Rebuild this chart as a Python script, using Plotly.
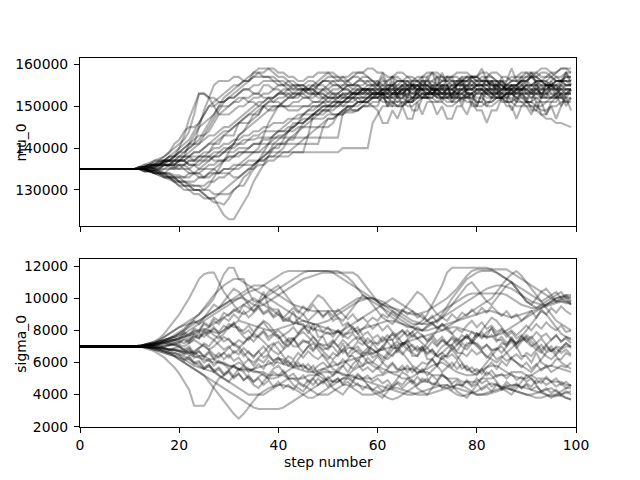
import plotly.graph_objects as go

# ---- data: MCMC walker traces (estimated) ----
STEP_LABELS = [0, 20, 40, 60, 80, 100]
MU_TICKS = [130000, 140000, 150000, 160000]
SIGMA_TICKS = [2000, 4000, 6000, 8000, 10000, 12000]
MU_UNIT = 1000      # mu_0 walker values below are in thousands
SIGMA_UNIT = 100    # sigma_0 walker values below are in hundreds

mu_w01 = [135,135,135,135,135,135,135,135,135,135, 135,135,135,135.5,135.5,136,136,137,137,138, 140,143,147,150,153,153,152,152,151,151, 152,152,153,154,154,153,153,155,155,154, 154,153,153,152,152,154,155,155,154,154, 153,153,152,152,153,153,154,154,155,155, 156,153,153,156,152,152,155,151,154,154, 157,154,154,151,155,152,152,156,153,153, 150,153,153,156,154,157,154,154,151,154, 151,151,155,152,156,153,153,150,153,154]
mu_w02 = [135,135,135,135,135,135,135,135,135,135, 135,135,135,135,134.5,134.5,135,136,136,137, 138,138,141,141,145,149,152,155,156,156, 156,157,157,156,156,158,158,157,157,156, 156,155,155,154,154,154,153,153,155,156, 157,157,156,156,155,155,155,154,154,153, 153,154,154,155,156,156,157,157,156,156, 155,155,154,154,154,155,156,156,157,157, 156,155,155,154,154,153,153,154,155,156, 157,157,156,155,155,156,157,157,158,158]
mu_w03 = [135,135,135,135,135,135,135,135,135,135, 135,135,135,134.5,134.5,134,134,133,133,132, 132,131,131,130,130,129,128,128,126,124, 123,123,125,127,129,132,134,136,138,140, 140,142,144,146,146,148,149,150,150,151, 151,152,152,153,152,152,151,151,152,153, 153,154,154,153,152,152,151,151,152,152, 153,153,154,155,155,154,153,153,152,152, 151,151,150,150,151,152,153,153,152,151, 151,150,150,149,149,150,150,151,151,152]
mu_w04 = [135,135,135,135,135,135,135,135,135,135, 135,135,135,135,135.5,135,134.5,134,133,133, 132,131,131,130,130,129,128,127,127,126.5, 128,130,131,131,133,135,137,139,141,143, 144,145,146,147,147,148,149,149,150,150, 150,151,151,150,150,149,149,150,151,152, 152,153,154,154,155,155,154,153,153,152, 152,151,151,152,153,153,154,154,155,155, 154,154,153,153,152,152,153,153,154,154, 155,155,154,153,153,152,152,153,154,154]
mu_w05 = [135,135,135,135,135,135,135,135,135,135, 135,135,135,135,135,135.5,136,136,136,135.5, 135,135,134,134,133,133,134,135,136,137, 137,138,138,139,139,139,139,139,139,139, 139,139,139,139,139,139,139,139,139,139, 139,139,139,140,140,140,140,140,140,146, 148,150,150,151,150,150,151,152,152,153, 153,153,152,152,151,151,152,152,153,153, 154,154,153,152,152,152,151,151,152,153, 153,152,152,151,151,152,152,153,153,153]
mu_w06 = [135,135,135,135,135,135,135,135,135,135, 135,135,135.5,135.5,136,136,136,137,137,136, 136,135,135,136,137,137,138,138,139,139, 140,140,141,141,142,142,142.5,142.5,142.5,142.5, 142.5,142.5,142.5,142.5,142.5,142.5,142.5,142.5,142.5,142.5, 142.5,142.5,142.5,148.5,148.5,148.5,149,150,150,151, 151,152,152,153,153,154,155,155,154,154, 153,153,154,154,155,156,156,157,157,156, 155,155,155,156,156,155,154,154,155,156, 156,157,157,156,155,155,156,156,157,157]
mu_w07 = [135,135,135,135,135,135,135,135,135,135, 135,135,135,134.5,134.5,135,135,135,136,136, 137,137,136,136,135,136,137,138,138,139, 139,139,140,140,140,141,141,141,141,141, 141,141,141,141,141,141,141,141,141,145, 147,147,148,149,150,150,151,151,152,152, 153,153,152,151,151,152,153,153,154,155, 155,154,154,153,153,152,152,153,154,154, 155,155,154,153,153,154,155,156,156,155, 154,154,153,153,152,152,153,154,155,155]
mu_w08 = [135,135,135,135,135,135,135,135,135,135, 135,135,135.5,136,136,137,137,138,139,140, 141,142,144,148,153,153,152,150,148,148, 148,149,150,150,151,152,152,153,153,154, 155,155,156,156,155,155,154,154,153,153, 152,152,153,154,155,155,156,157,157,156, 155,155,154,154,153,153,152,152,153,154, 155,156,157,157,156,156,155,155,154,154, 153,153,152,152,153,153,154,155,155,156, 156,157,157,158,158,157,156,156,157,157]
mu_w09 = [135,135,135,135,135,135,135,135,135,135, 135,135,135,135,134.5,134.5,134,134,134,133, 133,132,132,132,133,133,134,134,134,135, 135,135,135,136,136,136,137,137,138,138, 139,140,142,142,144,146,147,148,149,150, 150,151,151,152,152,153,153,154,154,153, 153,152,152,153,153,154,154,155,155,154, 154,153,153,153,154,154,155,155,156,156, 155,155,154,154,153,153,152,152,151,151, 150,150,149,148,147,147,146,146,145.5,145]
mu_w10 = [135,135,135,135,135,135,135,135,135,135, 135,135,135,135,135,135.5,135.5,136,136,136, 137,137,138,139,139,140,141,142,143,144, 144,145,146,147,148,148,149,150,151,151, 152,152,153,153,154,154,153,153,152,152, 151,151,152,153,153,154,155,155,156,156, 155,158,155,155,152,155,152,156,153,157, 154,154,157,154,157,157,154,151,154,151, 154,154,157,153,156,153,156,159,156,156, 153,153,156,152,155,155,152,155,158,155]
mu_w11 = [135,135,135,135,135,135,135,135,135,135, 135,135,135.5,135.5,136,136.5,137,137,138,138, 139,139,140,141,142,144,146,148,150,152, 153,154,155,156,157,158,159,159,159,158, 157,157,156,155,155,154,154,155,156,157, 158,158,157,157,156,155,155,154,153,153, 154,155,156,157,158,158,157,156,156,155, 155,154,154,153,153,154,155,156,156,157, 157,158,158,157,156,155,155,154,154,155, 156,157,158,159,159,158,157,156,156,155]
mu_w12 = [135,135,135,135,135,135,135,135,135,135, 135,135,135,135,134.5,134,134,133.5,133,133, 132,132,131,131,131,130,130,129,129,129, 129,130,131,133,134,136,137,138,139,141, 142,143,144,145,146,147,147,148,149,150, 150,150,151,151,152,152,153,153,153,154, 154,154,155,155,154,153,153,152,152,153, 153,154,154,155,155,155,154,154,153,153, 152,152,151,151,152,153,153,154,154,155, 155,154,154,153,153,154,154,155,155,155]
mu_w13 = [135,135,135,135,135,135,135,135,135,135, 135,135,135,135.5,136,136,136,136.5,137,137, 137,137,138,138,138,139,139,141,141,143, 143,143,146,146,146,148,148,150,150,150, 150,150,150,150,150,150,150,150,150,151, 152,152,152,153,153,153,154,154,154,154, 153,153,150,150,153,153,151,151,154,154, 152,152,155,155,152,152,156,156,153,153, 151,151,154,154,154,151,151,155,155,152, 152,149,149,152,152,155,155,152,152,154]
mu_w14 = [135,135,135,135,135,135,135,135,135,135, 135,135,135,135,135.5,136,136,137,137,138, 139,140,141,142,143,143,144,146,148,149, 150,151,152,152,151,151,150,150,149,149, 150,151,152,153,153,152,152,151,151,152, 153,154,154,155,155,154,154,153,153,152, 152,151,151,150,150,151,151,152,153,153, 152,152,151,151,150,150,151,152,152,153, 154,154,153,153,152,152,151,151,150,150, 151,151,152,152,153,153,152,152,151,151]
mu_w15 = [135,135,135,135,135,135,135,135,135,135, 135,135,135,135,135,134.5,134.5,135,135,135.5, 136,136,135,134,134,133,133,134,134,135, 135,136,136,136,137,137,137,137,138,138, 138,138,138,139,139,139,143,148,148,148, 149,149,150,150,151,151,152,152,152,153, 153,153,154,154,154,155,155,155,154,154, 153,153,152,152,152,153,153,154,154,154, 155,155,155,156,156,156,155,155,154,154, 153,153,154,154,155,155,154,154,153,153]
mu_w16 = [135,135,135,135,135,135,135,135,135,135, 135,135,135,135.5,135.5,136,136.5,137,138,139, 140,141,142,144,146,148,150,150,151,151, 152,152,153,154,154,155,155,156,156,156, 155,155,154,153,153,153,152,152,153,154, 155,156,156,157,157,158,158,158,157,156, 156,155,155,155,156,156,155,154,154,153, 153,154,155,156,157,157,158,158,158,157, 156,156,155,155,154,154,155,156,157,157, 158,158,157,156,156,157,158,159,159,159]
mu_w17 = [135,135,135,135,135,135,135,135,135,135, 135,135,135,135,135,135,134.5,134,134,133.5, 133.5,133,133,134,134,135,135,135,134,134, 134,133,133,134,135,135,136,136,137,137, 138,139,139,140,141,142,143,144,145,146, 147,147,148,149,150,150,151,151,152,152, 153,153,152,152,151,151,150,150,151,152, 152,153,153,152,152,151,151,152,152,153, 153,154,154,153,153,152,152,153,153,154, 154,153,153,152,152,152,153,153,152,152]
mu_w18 = [135,135,135,135,135,135,135,135,135,135, 135,135,135,134.5,134.5,134,133.5,133,133,132, 131,131,130,130,130,130,131,133,135,137, 139,141,143,144,146,147,148,150,151,152, 153,153,154,154,155,155,156,156,155,155, 154,153,153,152,152,153,153,154,154,155, 155,156,156,157,157,156,156,155,155,154, 154,155,155,156,156,157,157,156,156,155, 155,154,154,153,153,154,154,155,155,156, 156,155,155,154,154,155,156,156,155,155]
mu_w19 = [135,135,135,135,135,135,135,135,135,135, 135,135,135,135.5,135.5,135,135,136,136,137, 137,138,138,137,137,138,138,137,137,137, 138,138,139,139,139,139,140,143,146,148, 150,151,152,152,153,153,154,154,153,153, 152,152,151,151,152,152,153,153,154,154, 154,153,153,152,152,153,154,154,155,155, 154,154,153,153,152,152,153,153,154,154, 155,155,156,156,155,155,154,154,153,153, 153,154,154,155,155,154,154,153,153,154]
mu_w20 = [135,135,135,135,135,135,135,135,135,135, 135,135,135,135,134.5,134.5,134,134,135,135, 136,136,137,137,138,138,139,140,140,141, 141,142,142,143,143,144,144,145,145,146, 146,146,147,147,148,148,148,148,149,149, 149,148,148,148,149,149,149,150,150,150, 149,146,146,149,147,150,147,147,151,148, 151,151,148,150,147,147,150,150,148,151, 149,149,146,149,149,152,150,150,147,150, 150,148,151,148,148,150,147,150,152,149]
mu_w21 = [135,135,135,135,135,135,135,135,135,135, 135,135,135.5,136,136.5,137,137.5,138,139,141, 142,144,145,145,146,148,150,151,152,153, 154,155,155,156,156,157,157,157,157,157, 156,156,155,155,154,154,154,153,153,152, 152,153,153,154,155,155,156,156,155,155, 154,154,153,153,154,155,156,156,157,157, 158,158,157,156,156,155,155,156,157,157, 157,156,156,155,155,156,156,157,157,158, 158,157,156,156,155,155,156,156,156,156]
mu_w22 = [135,135,135,135,135,135,135,135,135,135, 135,135,135,135,135.5,135.5,136,136,135.5,135, 135,136,137,137,138,138,138,139,139,140, 140,141,141,142,142,143,143,144,144,144, 144,144,144,144,145,145,145,145,145,145, 145,146,148,148,150,150,151,151,151,152, 152,153,153,153,154,154,154,153,153,152, 152,152,153,153,154,154,155,155,155,154, 154,153,153,152,152,152,153,153,154,154, 155,155,156,156,155,155,154,154,154,154]
mu_w23 = [135,135,135,135,135,135,135,135,135,135, 135,135,135,135,135,135.5,136,136.5,137,137, 137,138,138,139,139,140,141,141,142,143, 144,145,146,147,148,149,150,151,152,152, 153,154,154,155,155,155,154,154,155,156, 156,155,155,154,154,153,153,153,154,154, 155,157,154,157,154,154,152,155,152,156, 156,158,155,158,155,152,155,157,154,157, 157,159,156,156,153,156,153,151,154,157, 155,158,155,155,153,156,153,156,158,156]
mu_w24 = [135,135,135,135,135,135,135,135,135,135, 135,135,135,135,134.5,134.5,134,133.5,133,132.5, 132,132,131.5,131,131,131,132,132,133,133, 134,135,136,137,138,139,139,140,141,142, 143,143,144,145,146,146,147,148,148,149, 149,150,150,151,151,152,152,152,153,153, 152,152,151,151,150,150,151,151,152,152, 153,153,154,154,153,153,152,152,151,151, 150,150,151,151,152,152,153,153,152,152, 151,151,150,150,151,151,152,152,153,153]
mu_w25 = [135,135,135,135,135,135,135,135,135,135, 135,135,135,135.5,135.5,136,136,136.5,137,137, 138,138,139,140,141,143,145,147,149,151, 152,153,154,155,156,157,158,158,159,159, 158,158,157,157,156,156,157,157,158,158, 158,157,157,156,156,157,158,158,159,159, 158,158,157,157,156,156,155,155,156,157, 157,158,158,157,157,156,156,155,155,156, 156,157,157,158,158,157,157,156,156,157, 157,158,158,157,157,158,158,159,159,158]
mu_w26 = [135,135,135,135,135,135,135,135,135,135, 135,135,135,135,134.5,135,135.5,136,136,136, 137,137,136,136,136,137,137,138,138,139, 140,141,143,144,145,146,147,148,149,150, 150,150,149,149,149,150,150,151,151,151, 150,150,150,151,151,152,152,151,151,150, 150,153,150,153,153,150,152,149,149,152, 152,155,152,155,155,151,153,150,153,150, 150,153,150,152,155,152,152,149,151,153, 151,154,151,151,148,151,151,153,150,152]
mu_w27 = [135,135,135,135,135,135,135,135,135,135, 135,135,135,134.5,134.5,134,134,134,133.5,133, 133,133,134,134,135,135,136,136,137,137, 138,138,139,139,140,141,141,142,142,143, 144,144,145,145,146,146,147,147,147,147, 148,148,148,149,149,150,150,151,151,152, 152,153,153,154,154,155,155,156,156,155, 155,154,154,153,153,153,154,154,155,155, 156,156,157,157,156,156,155,155,154,154, 155,155,156,156,157,157,156,156,155,155]
mu_w28 = [135,135,135,135,135,135,135,135,135,135, 135,135,135.5,135.5,136,136,137,137,138,138, 139,140,141,143,145,146,147,148,150,150, 150,151,151,152,152,153,153,152,152,151, 151,150,150,151,151,152,152,153,153,154, 154,155,155,154,154,153,153,152,152,153, 153,154,154,155,155,156,156,155,155,154, 154,153,153,152,152,153,153,154,154,155, 155,156,156,155,155,154,154,153,153,154, 154,155,155,156,156,155,155,154,154,154]
mu_w29 = [135,135,135,135,135,135,135,135,135,135, 135,135,135,135,134.5,134,133.5,133,132.5,132, 131,130,130,129,129,128,128,128,129,130, 131,132,133,134,135,136,137,138,139,140, 141,141,142,143,144,145,146,147,148,149, 150,150,151,151,152,153,153,154,154,154, 153,153,152,152,153,153,154,154,155,155, 156,156,155,155,154,154,153,153,152,152, 153,153,154,154,155,155,154,154,153,153, 152,152,153,153,154,154,155,155,154,154]
mu_w30 = [135,135,135,135,135,135,135,135,135,135, 135,135,135,135.5,136,136,136.5,137,137,138, 138,139,140,141,141,142,143,143,144,145, 145,146,147,148,149,150,151,151,152,152, 153,153,152,152,153,154,154,155,155,156, 156,156,155,155,156,157,157,156,156,155, 155,154,154,153,153,154,154,155,155,156, 156,155,155,154,154,155,155,156,156,157, 157,156,156,155,155,154,154,155,155,154, 154,153,153,154,154,155,155,156,156,156]

sigma_w01 = [70,70,70,70,70,70,70,70,70,70, 70,70,70,69,68,67,65,63,60,57, 53,48,43,33,33,33,38,45,50,52, 55,58,60,58,56,55,54,52,50,50, 51,53,55,57,58,58,56,54,52,50, 49,48,48,50,52,55,57,58,60,60, 58,56,55,53,52,50,50,51,53,55, 56,58,59,60,58,56,54,53,52,52, 53,55,57,58,58,56,54,52,51,50, 50,52,54,56,57,58,57,56,55,54]
sigma_w02 = [70,70,70,70,70,70,70,70,70,70, 70,70,70,71,72,73,74,76,78,80, 82,84,86,88,90,93,96,100,108,115, 119,119,112,112,104,98,98,104,95,93, 93,86,86,92,84,84,78,84,76,76, 70,70,66,72,64,64,60,66,66,72, 68,68,74,74,66,72,72,64,64,70, 62,62,58,64,64,70,66,66,72,72, 78,76,76,82,74,74,70,76,70,64, 64,60,66,60,58,58,62,62,66,64]
sigma_w03 = [70,70,70,70,70,70,70,70,70,70, 70,70,70.5,71,72,73,75,78,82,86, 90,95,100,106,112,115,116,116,110,104, 100,96,92,90,92,95,98,100,102,104, 106,108,110,112,114,116,117,117,117,117, 117,117,117,115,113,110,106,102,100,98, 96,94,92,90,88,86,84,82,80,80, 82,84,86,90,95,100,104,108,112,114, 116,117,117,117,116,114,112,110,108,106, 104,102,100,98,100,102,104,100,98,96]
sigma_w04 = [70,70,70,70,70,70,70,70,70,70, 70,70,70,69.5,69,68,67,66,65,64, 62,60,58,56,54,52,48,44,40,36, 32,28,25,28,32,36,40,42,44,45, 46,46,45,44,42,40,38,38,40,42, 44,46,48,50,50,48,46,45,44,43, 42,40,38,37,38,40,42,44,46,48, 48,47,46,45,44,42,40,39,40,41, 42,44,46,47,46,45,44,43,42,41, 40,40,41,42,43,44,42,40,38,37]
sigma_w05 = [70,70,70,70,70,70,70,70,70,70, 70,70,70,70,70.5,71,71.5,72,72.5,73, 73,74,72,75,78,76,79,82,78,80, 84,82,82,78,80,76,76,79,74,77, 77,72,75,75,70,73,73,68,72,71, 71,74,70,66,69,69,73,71,75,72, 72,76,73,69,69,72,71,67,70,67, 69,73,70,74,71,71,75,73,77,72, 72,69,71,68,68,72,71,75,72,76, 73,70,72,68,71,67,70,69,72,70]
sigma_w06 = [70,70,70,70,70,70,70,70,70,70, 70,70,70,70,69.5,69,68.5,68,67,66, 65,62,64,60,61,57,59,55,57,53, 55,51,53,49,52,48,50,46,49,45, 48,44,46,43,47,45,49,46,50,47, 51,48,50,46,48,45,47,43,46,43, 45,42,46,44,48,46,50,47,51,48, 50,46,48,44,46,43,47,45,49,46, 50,47,49,45,47,43,46,43,46,44, 47,45,49,47,51,48,50,46,48,45]
sigma_w07 = [70,70,70,70,70,70,70,70,70,70, 70,70,70.5,71,71.5,72,73,74,75,76, 78,80,82,84,86,88,90,92,94,96, 98,100,102,104,106,108,108,108,106,104, 102,100,98,96,95,94,93,92,92,92, 92,92,92,94,96,98,100,100,100,100, 98,96,94,92,90,88,86,84,84,84, 86,88,90,92,94,96,98,100,102,103, 103,103,103,103,103,103,102,100,98,96, 95,94,94,95,96,98,100,101,101,101]
sigma_w08 = [70,70,70,70,70,70,70,70,70,70, 70,70,70,71,72,72,73,74,75,76, 77,78,80,82,84,86,88,90,92,94, 96,98,100,102,104,105,106,108,110,112, 114,116,117,117,117,117,117,117,117,117, 117,116,114,112,110,108,106,104,102,100, 98,96,95,94,93,92,91,90,90,91, 92,94,96,98,100,103,106,110,114,117, 118,118,118,118,118,118,118,116,114,112, 110,108,106,104,102,100,98,98,97,97]
sigma_w09 = [70,70,70,70,70,70,70,70,70,70, 70,70,69.5,70,71,72,74,76,78,80, 82,83,84,85,86,88,90,92,94,96, 98,99,100,100,98,96,95,96,98,100, 102,104,106,108,110,112,113,114,115,116, 116,116,116,116,116,116,114,110,106,102, 98,94,90,88,86,84,82,82,84,86, 90,96,102,108,116,119,119,119,119,119, 119,119,119,118,116,114,112,110,106,102, 98,96,94,96,98,100,102,104,100,96]
sigma_w10 = [70,70,70,70,70,70,70,70,70,70, 70,70,70,70,70,69.5,69,68.5,68,67.5, 67,65,67,63,64,60,62,58,61,59, 56,58,55,58,54,56,59,56,61,58, 62,62,58,61,57,59,55,58,53,56, 55,52,56,58,54,59,62,58,63,60, 64,60,57,60,56,55,58,54,57,60, 59,62,58,63,60,57,61,56,58,54, 56,53,57,60,56,61,58,63,60,57, 60,56,59,55,58,54,56,58,57,60]
sigma_w11 = [70,70,70,70,70,70,70,70,70,70, 70,70,70,70.5,71,70.5,71,72,71,72, 73,72,74,76,75,78,80,77,75,78, 82,85,80,76,74,78,82,86,84,80, 76,72,70,74,78,82,80,76,72,70, 68,72,76,80,84,82,78,74,70,68, 66,70,74,78,76,72,68,66,64,68, 72,76,80,84,82,78,74,70,68,72, 76,80,84,88,86,82,78,74,72,76, 80,84,88,92,90,86,82,78,76,74]
sigma_w12 = [70,70,70,70,70,70,70,70,70,70, 70,70,70,69.5,69,68,68,67,66,66, 65,64,62,60,58,56,58,55,52,50, 48,52,56,54,50,46,44,48,52,56, 58,54,50,46,44,42,46,50,54,52, 48,44,42,40,44,48,52,50,46,42, 40,38,42,46,50,54,52,48,44,42, 40,44,48,52,50,46,42,40,38,42, 46,50,54,52,48,44,42,40,44,48, 52,50,46,42,40,38,40,42,44,46]
sigma_w13 = [70,70,70,70,70,70,70,70,70,70, 70,70,70,71,71,72,73,74,75,76, 78,80,83,86,84,88,92,96,94,98, 102,106,104,100,96,92,96,100,104,106, 108,104,100,96,92,90,94,98,102,100, 96,92,88,86,90,94,98,102,100,96, 92,88,86,84,88,92,96,100,104,102, 98,94,90,88,92,96,100,104,108,110, 106,102,98,96,100,104,108,110,106,102, 98,96,100,104,106,102,98,100,102,98]
sigma_w14 = [70,70,70,70,70,70,70,70,70,70, 70,70,70,70,69.5,69.5,70,70.5,71,71, 70,68,70,66,69,72,70,74,71,68, 70,66,68,64,67,63,67,70,66,71, 73,69,74,70,70,66,70,67,71,68, 69,73,70,74,71,68,70,66,69,65, 67,70,66,71,73,70,74,70,67,69, 65,68,64,66,69,71,67,72,70,74, 71,68,71,67,69,66,70,73,69,73, 75,71,68,71,67,70,66,69,72,69]
sigma_w15 = [70,70,70,70,70,70,70,70,70,70, 70,70,70,70.5,71,72,72,73,73,74, 74,77,74,78,76,80,78,81,79,83, 81,84,80,80,83,79,83,85,81,78, 80,77,79,82,78,81,84,80,83,79, 82,78,80,76,79,82,78,81,84,81, 84,80,83,79,77,80,76,79,82,80, 83,85,81,84,80,78,81,79,83,86, 82,85,81,83,79,81,78,80,77,80, 83,80,84,81,85,82,80,83,79,80]
sigma_w16 = [70,70,70,70,70,70,70,70,70,70, 70,70,70,70,69,68,67,66,65,64, 63,62,60,58,57,56,55,54,52,50, 48,46,44,42,40,40,40,40,42,44, 46,48,50,50,48,46,44,42,40,40, 40,42,44,46,46,44,42,40,40,40, 41,42,43,44,44,43,42,41,40,40, 40,41,42,43,44,45,46,46,44,42, 40,40,40,41,42,43,44,43,42,41, 40,39,38,38,39,40,40,39,38,37]
sigma_w17 = [70,70,70,70,70,70,70,70,70,70, 70,70,70,70.5,71,71.5,72,73,74,74, 75,78,76,80,79,84,82,86,84,88, 86,90,87,92,88,91,94,90,92,88, 90,86,88,84,87,90,86,89,92,88, 92,89,93,90,87,90,86,88,85,88, 86,90,88,92,89,93,90,92,88,90, 86,89,85,88,86,90,87,91,89,93, 90,94,91,95,92,89,92,88,90,86, 89,92,88,93,90,94,91,95,92,90]
sigma_w18 = [70,70,70,70,70,70,70,70,70,70, 70,70,70,69.5,70,70.5,70,69,68,69, 70,68,66,67,69,71,68,65,63,66, 69,72,70,66,62,60,63,66,70,72, 68,64,60,58,62,66,70,72,68,64, 60,56,54,58,62,66,68,64,60,58, 56,60,64,68,70,66,62,58,56,54, 58,62,66,70,72,68,64,60,56,54, 52,56,60,64,68,70,66,62,60,58, 56,54,58,62,66,68,64,60,58,56]
sigma_w19 = [70,70,70,70,70,70,70,70,70,70, 70,70,70,70,70,69.5,69,69,68,68, 68,66,68,65,67,64,67,63,66,62, 65,61,63,59,62,58,62,60,64,61, 63,59,61,57,60,56,59,55,58,60, 57,61,58,62,59,56,59,55,57,54, 57,53,56,59,55,58,54,57,53,56, 52,55,58,54,57,60,56,59,55,57, 54,56,52,55,51,53,50,53,49,51, 48,50,47,49,46,48,45,47,44,44]
sigma_w20 = [70,70,70,70,70,70,70,70,70,70, 70,70,70.5,71,71.5,72,73,74,75,77, 79,81,84,87,90,94,98,102,105,108, 110,112,112,110,108,106,104,102,100,98, 96,94,92,90,88,86,85,84,84,85, 86,88,90,92,94,96,98,99,100,100, 99,98,96,94,92,90,88,86,85,84, 84,85,86,88,90,92,94,96,98,100, 102,104,106,107,108,108,107,106,104,102, 100,98,97,96,96,97,98,99,100,100]
sigma_w21 = [70,70,70,70,70,70,70,70,70,70, 70,70,70,70,70.5,71,70.5,70,71,72, 71,70,72,74,72,70,68,70,73,76, 74,71,69,72,75,78,76,73,70,67, 65,68,71,74,77,79,76,73,70,67, 64,62,65,68,71,74,76,73,70,68, 66,64,62,65,68,71,74,77,75,72, 69,66,64,62,65,68,71,74,76,73, 70,67,64,62,60,63,66,69,72,74, 76,73,70,67,64,62,65,68,70,70]
sigma_w22 = [70,70,70,70,70,70,70,70,70,70, 70,70,70,69.5,69,69,68,67,66,65, 64,61,63,59,60,56,58,54,56,52, 54,50,53,49,51,48,51,53,50,54, 52,55,51,53,49,52,48,50,46,49, 45,48,50,47,51,49,53,50,52,48, 50,47,49,45,47,44,47,49,46,50, 48,52,49,53,50,47,49,46,48,45, 47,43,45,42,46,44,48,45,47,44, 46,43,45,42,44,41,43,40,42,40]
sigma_w23 = [70,70,70,70,70,70,70,70,70,70, 70,70,70,70,70.5,71,71.5,72,72,71, 70,67,69,65,67,63,66,62,64,66, 63,67,65,69,66,64,67,63,65,61, 63,60,64,62,66,63,67,64,62,65, 62,66,64,68,65,69,66,64,67,63, 65,62,66,64,68,65,69,71,68,70, 66,68,64,66,63,65,62,66,64,68, 65,67,63,66,62,64,61,63,65,62, 66,64,68,66,70,67,69,66,68,65]
sigma_w24 = [70,70,70,70,70,70,70,70,70,70, 70,70,70,70,70.5,71,72,73,74,75, 76,79,77,81,80,85,83,88,86,91, 89,93,91,96,94,92,95,91,93,89, 92,88,91,94,91,95,92,96,92,89, 91,86,88,83,85,80,82,77,79,75, 77,73,75,78,74,77,80,76,79,77, 74,77,73,76,72,75,71,74,77,74, 78,75,79,81,77,80,76,79,75,77, 73,76,72,75,71,74,77,73,76,75]
sigma_w25 = [70,70,70,70,70,70,70,70,70,70, 70,70,70,70,69.5,69,68,67,66,64, 62,60,58,56,54,52,50,48,46,44, 42,40,38,36,34,32,31,31,31,31, 31,32,34,36,38,40,42,44,46,48, 50,52,54,53,52,51,50,49,48,47, 46,45,44,43,42,41,40,40,41,42, 43,44,45,46,46,45,44,43,42,41, 40,40,41,42,43,44,45,46,46,45, 44,43,42,41,40,39,39,40,41,42]
sigma_w26 = [70,70,70,70,70,70,70,70,70,70, 70,70,70,70.5,71,71,72,72.5,73,74, 75,76,78,79,80,81,80,79,78,80, 82,84,86,85,84,83,82,81,80,80, 81,82,83,84,85,86,85,84,83,82, 81,80,79,78,78,79,80,81,82,83, 84,85,86,86,85,84,83,82,81,80, 80,81,82,83,84,85,86,87,88,89, 90,91,92,92,91,90,89,88,89,90, 91,92,93,94,95,96,97,98,98,98]
sigma_w27 = [70,70,70,70,70,70,70,70,70,70, 70,70,70,70,69.5,69,69,68.5,68,68, 67,66,65,64,63,62,61,60,60,59, 58,57,56,55,55,56,57,58,59,60, 60,59,58,57,56,55,54,54,55,56, 57,58,59,60,61,62,63,64,65,66, 67,68,69,70,71,72,73,74,75,76, 77,78,79,80,81,82,82,81,80,79, 78,77,76,76,77,78,80,82,84,86, 88,90,92,94,96,98,100,101,102,102]
sigma_w28 = [70,70,70,70,70,70,70,70,70,70, 70,70,70,70,70.5,70,69.5,70,70.5,71, 72,75,73,77,75,79,76,74,77,73, 75,71,74,72,76,73,77,80,76,78, 75,77,73,75,71,74,72,76,73,77, 79,76,80,77,75,78,74,76,72,74, 71,74,77,74,78,80,77,79,75,77, 73,75,71,74,72,76,73,77,75,79, 76,79,75,77,73,76,72,74,71,74, 77,75,79,76,78,74,77,73,75,72]
sigma_w29 = [70,70,70,70,70,70,70,70,70,70, 70,70,70,70.5,71,71.5,72,73,73.5,74, 75,76,77,78,79,80,82,84,86,88, 90,92,94,96,98,100,98,96,94,92, 90,88,86,85,84,83,82,81,80,79, 78,78,79,80,82,84,86,88,90,92, 94,96,98,100,98,96,94,92,90,88, 86,84,82,80,82,84,86,88,90,92, 94,96,98,100,104,108,112,115,117,114, 110,106,102,98,94,90,86,84,82,80]
sigma_w30 = [70,70,70,70,70,70,70,70,70,70, 70,70,70,70,69.5,69.5,69,69,68,68, 67,67,66,66,64,64,62,62,60,60, 58,58,56,56,56,54,54,54,52,52, 52,52,50,50,50,50,52,52,52,54, 54,54,54,52,52,52,50,50,50,50, 52,52,54,54,54,56,56,56,54,54, 54,52,52,52,50,50,50,48,48,48, 48,50,50,50,52,52,52,54,54,54, 52,52,50,50,50,48,48,48,46,46]

MU_WALKERS = [mu_w01, mu_w02, mu_w03, mu_w04, mu_w05, mu_w06, mu_w07, mu_w08, mu_w09, mu_w10,
              mu_w11, mu_w12, mu_w13, mu_w14, mu_w15, mu_w16, mu_w17, mu_w18, mu_w19, mu_w20,
              mu_w21, mu_w22, mu_w23, mu_w24, mu_w25, mu_w26, mu_w27, mu_w28, mu_w29, mu_w30]
SIGMA_WALKERS = [sigma_w01, sigma_w02, sigma_w03, sigma_w04, sigma_w05, sigma_w06, sigma_w07, sigma_w08,
                 sigma_w09, sigma_w10, sigma_w11, sigma_w12, sigma_w13, sigma_w14, sigma_w15, sigma_w16,
                 sigma_w17, sigma_w18, sigma_w19, sigma_w20, sigma_w21, sigma_w22, sigma_w23, sigma_w24,
                 sigma_w25, sigma_w26, sigma_w27, sigma_w28, sigma_w29, sigma_w30]

LINE = dict(color="rgba(0,0,0,0.3)", width=2.1)
FONT = "DejaVu Sans"

fig = go.Figure()
for w in MU_WALKERS:
    fig.add_trace(go.Scatter(x=list(range(len(w))), y=[v * MU_UNIT for v in w],
                             mode="lines", line=LINE, xaxis="x", yaxis="y",
                             showlegend=False, hoverinfo="skip"))
for w in SIGMA_WALKERS:
    fig.add_trace(go.Scatter(x=list(range(len(w))), y=[v * SIGMA_UNIT for v in w],
                             mode="lines", line=LINE, xaxis="x2", yaxis="y2",
                             showlegend=False, hoverinfo="skip"))

axis_common = dict(showline=True, mirror=True, linecolor="black", linewidth=1.1,
                   ticks="outside", ticklen=5, tickwidth=1.1, tickcolor="black",
                   showgrid=False, zeroline=False,
                   tickfont=dict(family=FONT, size=13.9, color="black"))

fig.update_layout(
    width=640, height=480,
    margin=dict(l=80, r=64, t=58, b=53),
    paper_bgcolor="white", plot_bgcolor="white",
    font=dict(family=FONT, size=13.9, color="black"),
    xaxis=dict(domain=[0, 1], anchor="y", range=[0, 100], tickmode="array",
               tickvals=STEP_LABELS, showticklabels=False, **axis_common),
    yaxis=dict(domain=[0.5447, 1], anchor="x", range=[121400, 161500], tickmode="array",
               tickvals=MU_TICKS, ticktext=[str(t) for t in MU_TICKS],
               ticklabelstandoff=3, **axis_common),
    xaxis2=dict(domain=[0, 1], anchor="y2", range=[0, 100], tickmode="array",
                tickvals=STEP_LABELS, ticktext=[str(t) for t in STEP_LABELS], **axis_common),
    yaxis2=dict(domain=[0, 0.4545], anchor="x2", range=[1980, 12430], tickmode="array",
                tickvals=SIGMA_TICKS, ticktext=[str(t) for t in SIGMA_TICKS],
                ticklabelstandoff=3, **axis_common),
    annotations=[
        dict(text="mu_0", xref="paper", yref="paper", x=-0.118, y=0.772, textangle=-90,
             showarrow=False, xanchor="center", yanchor="middle",
             font=dict(family=FONT, size=13.9, color="black")),
        dict(text="sigma_0", xref="paper", yref="paper", x=-0.118, y=0.2272, textangle=-90,
             showarrow=False, xanchor="center", yanchor="middle",
             font=dict(family=FONT, size=13.9, color="black")),
        dict(text="step number", xref="paper", yref="paper", x=0.5, y=-0.095,
             showarrow=False, xanchor="center", yanchor="middle",
             font=dict(family=FONT, size=13.9, color="black")),
    ],
)

fig.write_html("out.html", config={"displayModeBar": False},
               post_script="document.body.style.margin='0';document.body.style.overflow='hidden';")
